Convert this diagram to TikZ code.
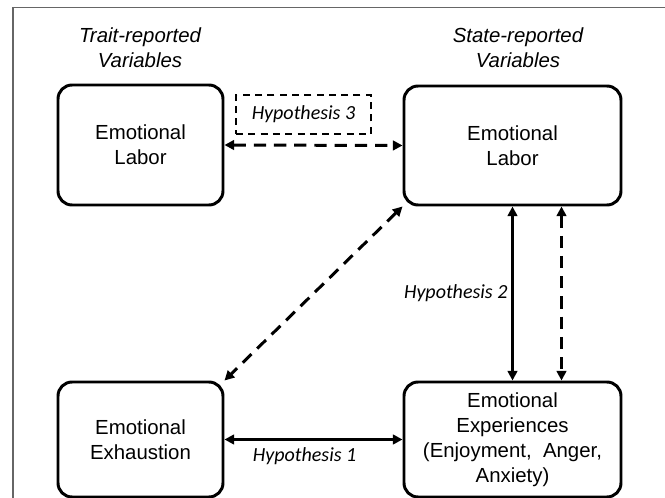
\documentclass[tikz,border=0pt]{standalone}
\usepackage{fontspec}
\setmainfont{Liberation Sans}
\newfontfamily\hypfont{Carlito}
\usetikzlibrary{positioning, arrows.meta}
\tikzset{>={Triangle[length=5.5pt,width=5.5pt]},
         var/.style={draw,line width=1.7pt,rounded corners=8pt,align=center,inner sep=0pt,
                     font=\fontsize{11.6}{14.2}\selectfont},
         head/.style={align=center,font=\fontsize{11.6}{14.2}\selectfont\itshape},
         hyp/.style={font=\hypfont\itshape\fontsize{11.4}{13}\selectfont},
         link/.style={line width=1.7pt,<->},
         dlink/.style={link,dash pattern=on 7pt off 4.5pt},
        }

\begin{document}
\begin{tikzpicture}
        \useasboundingbox (0,0) rectangle (13.3,-9.96);
        \draw[black!60, line width=0.8pt](0.26,-10.5)--(0.26,-0.15)--(13.6,-0.15);

        \node[head](trait)at(2.80,-0.95){Trait-reported\\Variables};
        \node[head](state)at(10.36,-0.95){State-reported\\Variables};

        \node[var,minimum width=3.30cm,minimum height=2.40cm](tel)at(2.81,-2.90){Emotional\\Labor};
        \node[var,minimum width=4.34cm,minimum height=2.38cm](sel)at(10.25,-2.91){Emotional\\Labor};
        \node[var,minimum width=3.30cm,minimum height=2.30cm](ee)at(2.81,-8.79){Emotional\\Exhaustion};
        \node[var,minimum width=4.34cm,minimum height=2.30cm](exp)at(10.25,-8.79){Emotional\\Experiences\\(Enjoyment,~ Anger,\\Anxiety)};

        \node[hyp,draw,line width=1.2pt,dash pattern=on 4pt off 3pt,minimum width=2.70cm,minimum height=0.78cm](h3)at(6.07,-2.29){Hypothesis 3};

        \draw[dlink](tel.east)--(sel.west);
        \draw[dlink](sel.south west)--(ee.north east);
        \draw[link](sel.south)--node[hyp,left,inner sep=2pt]{Hypothesis 2}(exp.north);
        \draw[dlink]([xshift=0.98cm]sel.south)--([xshift=0.98cm]exp.north);
        \draw[link](ee.east)--node[hyp,below,pos=0.45,inner sep=4pt]{Hypothesis 1}(exp.west);
    \end{tikzpicture}
\end{document}
